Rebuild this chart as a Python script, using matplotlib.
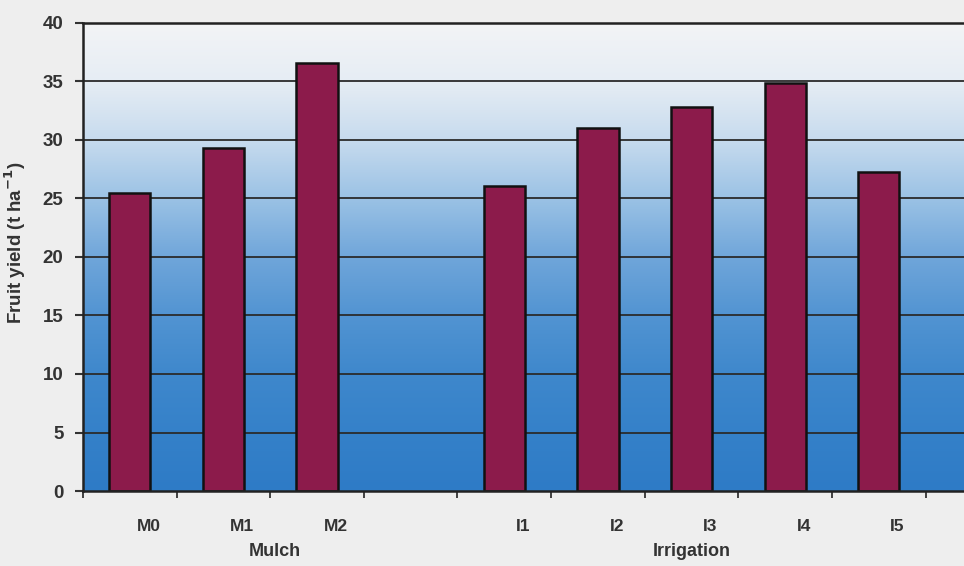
import numpy as np
import matplotlib
matplotlib.use("Agg")
from matplotlib import pyplot as plt
from matplotlib.colors import LinearSegmentedColormap

# treatments and yields (t/ha)
mulch_labels = ["M0", "M1", "M2"]
mulch_yield = [25.5, 29.3, 36.6]
irrig_labels = ["I1", "I2", "I3", "I4", "I5"]
irrig_yield = [26.1, 31.05, 32.8, 34.85, 27.3]
yticks = [0, 5, 10, 15, 20, 25, 30, 35, 40]

# one empty slot between the two groups
labels = mulch_labels + [""] + irrig_labels
values = mulch_yield + [np.nan] + irrig_yield
xpos = np.arange(len(labels))

plt.rcParams['font.family'] = ['Liberation Sans', 'DejaVu Sans']
plt.rcParams['font.weight'] = 'bold'
plt.rcParams['axes.labelweight'] = 'bold'
plt.rcParams['mathtext.default'] = 'bf'

fig = plt.figure(figsize=(9.64, 5.66), dpi=100, facecolor='#eeeeee')
ax = fig.add_axes([0.0861, 0.1325, 0.9139, 0.8269])

xmin, xmax = -0.5, 8.91
ax.set_xlim(xmin, xmax)
ax.set_ylim(0, 40)

# white-to-blue backdrop
bg = LinearSegmentedColormap.from_list("bg", [
    (0.0, '#2e7bc6'), (0.125, '#3581c9'), (0.25, '#3f88cc'),
    (0.375, '#5294d2'), (0.5, '#70a6da'), (0.625, '#9bc2e5'),
    (0.75, '#c7dbee'), (0.875, '#e6edf4'), (1.0, '#f3f4f6')])
grad = np.linspace(0, 1, 256).reshape(-1, 1)
ax.imshow(grad, cmap=bg, origin='lower', aspect='auto',
          extent=(xmin, xmax, 0, 40), zorder=0)

for y in yticks[1:]:
    ax.axhline(y, color='#2b2b2b', lw=1.3, zorder=1)

ax.bar(xpos, values, width=0.44, color='#8c1b4b', edgecolor='#111111',
       linewidth=1.8, zorder=2)

for s in ['left', 'top', 'bottom']:
    ax.spines[s].set_linewidth(1.8)
    ax.spines[s].set_color('#222222')
ax.spines['right'].set_visible(False)

ax.set_yticks(yticks)
ax.set_yticklabels([str(v) for v in yticks], fontweight='bold')
ax.tick_params(axis='y', length=6, width=1.5, pad=8, labelsize=13.5,
               colors='#333333')

# boundary ticks, labels sit slightly right of bar centres
ax.set_xticks(np.arange(-0.5, 9.0, 1.0))
ax.set_xticklabels([])
ax.tick_params(axis='x', which='major', length=5, width=1.3,
               colors='#333333')
keep = [i for i, l in enumerate(labels) if l]
ax.set_xticks(xpos[keep] + 0.2, minor=True)
ax.set_xticklabels([labels[i] for i in keep], minor=True, fontweight='bold')
ax.tick_params(axis='x', which='minor', length=0, pad=20, labelsize=12.5,
               labelcolor='#333333')

ax.text(1.55, -0.13, "Mulch", transform=ax.get_xaxis_transform(),
        ha='center', va='center', fontsize=13, fontweight='bold',
        color='#333333')
ax.text(6.0, -0.13, "Irrigation", transform=ax.get_xaxis_transform(),
        ha='center', va='center', fontsize=13, fontweight='bold',
        color='#333333')

ax.set_ylabel("Fruit yield (t ha$^{-1}$)", fontsize=13.5,
              fontweight='bold', color='#333333')
ax.yaxis.set_label_coords(-0.062, 0.53)

fig.savefig("out.png", dpi=100, facecolor=fig.get_facecolor())
